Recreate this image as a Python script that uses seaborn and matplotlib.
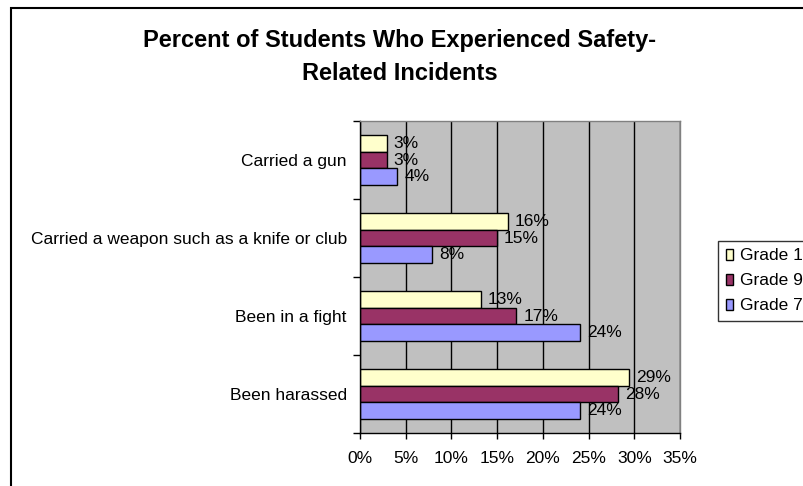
import matplotlib
matplotlib.use("Agg")
import matplotlib.pyplot as plt
from matplotlib.patches import Rectangle
from matplotlib.ticker import FixedLocator
import seaborn as sns
import pandas as pd

# ---- data ----
categories = ["Carried a gun",
              "Carried a weapon such as a knife or club",
              "Been in a fight",
              "Been harassed"]
grades = ["Grade 11", "Grade 9", "Grade 7"]
grade11 = [2.9, 16.2, 13.2, 29.4]
grade9 = [2.9, 15.0, 17.1, 28.2]
grade7 = [4.1, 7.9, 24.1, 24.1]
xticks = [0, 5, 10, 15, 20, 25, 30, 35]
title = "Percent of Students Who Experienced Safety-\nRelated Incidents"

colors = {"Grade 11": "#FFFFCC", "Grade 9": "#993366", "Grade 7": "#9999FF"}

rows = []
for g, vals in zip(grades, [grade11, grade9, grade7]):
    for c, v in zip(categories, vals):
        rows.append({"category": c, "grade": g, "value": v})
df = pd.DataFrame(rows)

sns.set_theme(style="white")
plt.rcParams["font.family"] = ["Liberation Sans", "DejaVu Sans"]
plt.rcParams["text.color"] = "black"
plt.rcParams["xtick.color"] = "black"
plt.rcParams["ytick.color"] = "black"
plt.rcParams["axes.labelcolor"] = "black"

FS = 12.5
fig = plt.figure(figsize=(8.04, 4.86), dpi=100)
ax = fig.add_axes([360 / 804, 1 - 433 / 486, 320 / 804, 312 / 486])

sns.barplot(data=df, y="category", x="value", hue="grade", order=categories,
            hue_order=grades, palette=colors, width=0.64, edgecolor="black",
            linewidth=1, saturation=1, legend=False, orient="h", ax=ax)

ax.set_facecolor("#C0C0C0")
ax.set_xlim(0, 35)
ax.set_ylim(3.5, -0.5)
ax.set_xticks(xticks)
ax.set_xticklabels([f"{t}%" for t in xticks], fontsize=FS, color="black")
ax.set_xlabel("")
ax.set_ylabel("")
ax.set_axisbelow(True)
ax.grid(axis="x", color="black", linewidth=1)
ax.grid(axis="y", visible=False)

ax.tick_params(axis="x", which="major", direction="out", length=4, width=1,
               color="black", pad=9, bottom=True)
ax.tick_params(axis="y", which="major", length=0, pad=9.5, labelsize=FS,
               labelcolor="black")
ax.yaxis.set_minor_locator(FixedLocator([-0.5, 0.5, 1.5, 2.5, 3.5]))
ax.tick_params(axis="y", which="minor", direction="out", length=5, width=1,
               color="black", left=True)

for side in ["left", "bottom"]:
    ax.spines[side].set_color("black")
    ax.spines[side].set_linewidth(1)
for side in ["top", "right"]:
    ax.spines[side].set_color("#808080")
    ax.spines[side].set_linewidth(1)

for cont in ax.containers:
    vals = [b.get_width() for b in cont]
    ax.bar_label(cont, labels=[f"{round(v)}%" for v in vals], padding=5,
                 fontsize=FS, color="black")

fig.text(400 / 804, 1 - 57 / 486, title, ha="center", va="center",
         fontsize=17, fontweight="bold", linespacing=1.5, color="black")

handles = [Rectangle((0, 0), 1, 1, facecolor=colors[g], edgecolor="black",
                     linewidth=1) for g in grades]
leg = fig.legend(handles, grades, loc="lower left",
                 bbox_to_anchor=(718 / 804, 1 - 321 / 486),
                 bbox_transform=fig.transFigure, borderaxespad=0,
                 fontsize=FS, handlelength=0.4, handleheight=0.6,
                 handletextpad=0.4, labelspacing=0.57, borderpad=0.45,
                 fancybox=False, frameon=True)
leg.get_frame().set_edgecolor("black")
leg.get_frame().set_linewidth(1)
leg.get_frame().set_facecolor("white")

fig.patches.append(Rectangle((11 / 804, -0.05), 1.2, 1 - 8 / 486 + 0.05,
                             transform=fig.transFigure, fill=False,
                             edgecolor="black", linewidth=1.5))

fig.savefig("out.png", dpi=100)
